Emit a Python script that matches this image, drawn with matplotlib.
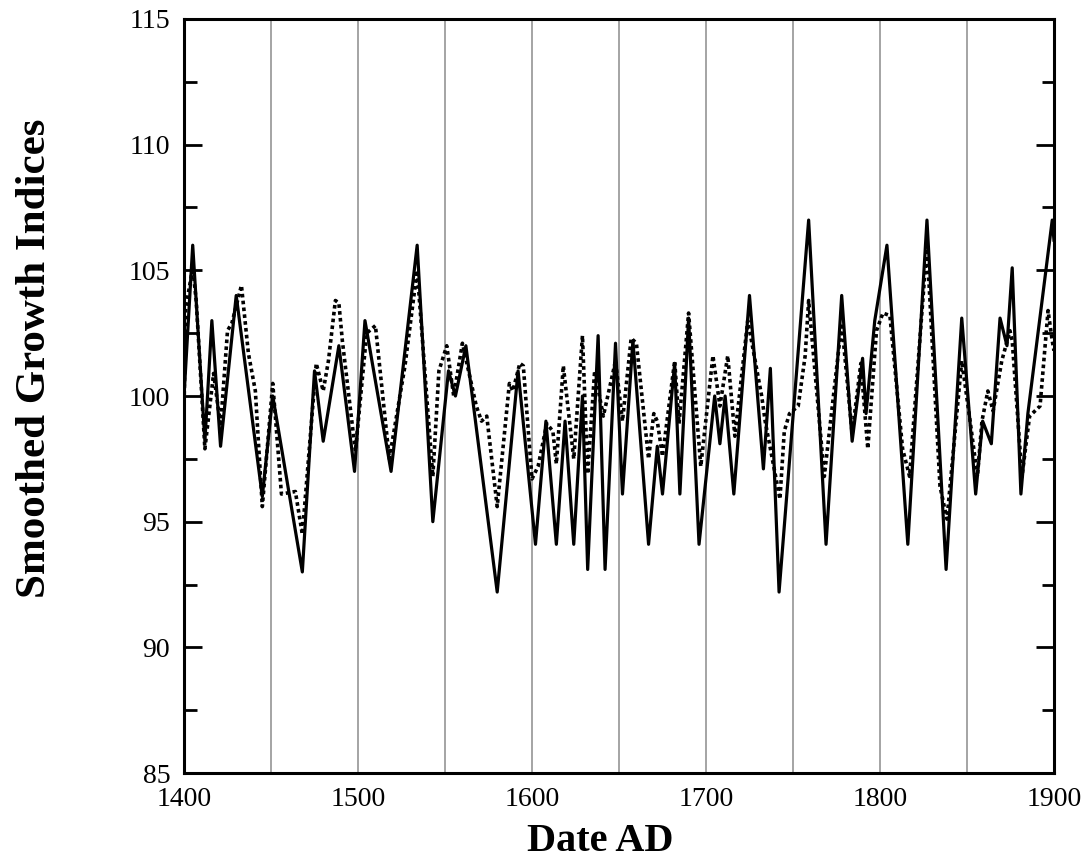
import matplotlib
matplotlib.use("Agg")
import matplotlib.pyplot as plt
from matplotlib.ticker import MultipleLocator

# === Data
solid_years = [1400, 1405, 1412, 1416, 1421, 1430, 1445, 1451, 1468, 1475,
               1480, 1489, 1498, 1504, 1519, 1534, 1543, 1552, 1556, 1562,
               1580, 1592, 1602, 1608, 1614, 1619, 1624, 1629, 1632, 1638,
               1642, 1648, 1652, 1658, 1667, 1672, 1675, 1682, 1685, 1690,
               1696, 1705, 1708, 1711, 1716, 1725, 1733, 1737, 1742, 1759,
               1769, 1778, 1784, 1790, 1792, 1797, 1804, 1816, 1827, 1838,
               1847, 1855, 1859, 1864, 1869, 1873, 1876, 1881, 1885, 1899,
               1900]
solid_vals = [100.0, 106.0, 98.2, 103.0, 98.0, 104.0, 96.0, 100.0, 93.0, 101.0,
              98.2, 102.0, 97.0, 103.0, 97.0, 106.0, 95.0, 101.0, 100.0, 102.0,
              92.2, 101.0, 94.1, 99.0, 94.1, 99.0, 94.1, 100.0, 93.1, 102.4,
              93.1, 102.1, 96.1, 102.2, 94.1, 98.0, 96.1, 101.3, 96.1, 103.1,
              94.1, 100.0, 98.1, 100.0, 96.1, 104.0, 97.1, 101.1, 92.2, 107.0,
              94.1, 104.0, 98.2, 101.5, 99.3, 103.0, 106.0, 94.1, 107.0, 93.1,
              103.1, 96.1, 99.0, 98.1, 103.1, 102.0, 105.1, 96.1, 99.3, 107.0,
              106.2]

dot_years = [1400, 1401, 1405, 1407, 1412, 1417, 1421, 1425, 1427.5, 1433,
             1437, 1441, 1445, 1451, 1456, 1464, 1468, 1476, 1480, 1483,
             1487, 1489, 1491, 1498.5, 1505, 1510, 1518, 1527, 1534, 1543,
             1546.5, 1551, 1555, 1560, 1568, 1571, 1574, 1580, 1587, 1589,
             1593, 1595, 1600, 1603.5, 1608.5, 1612, 1614, 1618, 1624, 1629,
             1632, 1636, 1641, 1648, 1652, 1657, 1660, 1667, 1670, 1672,
             1675, 1682, 1684.5, 1690, 1697, 1704, 1708, 1712.5, 1716.6, 1724,
             1732, 1734, 1742.5, 1745, 1748, 1753, 1757, 1759, 1768, 1778,
             1784, 1789, 1793, 1798, 1801.7, 1805.7, 1813, 1817, 1827, 1834.5,
             1838.5, 1847, 1852, 1856, 1858.6, 1862, 1865, 1870, 1874.7, 1876,
             1881.6, 1886, 1892, 1896.6, 1899, 1900]
dot_vals = [99.5, 103.5, 105.1, 103.8, 97.9, 100.9, 98.8, 102.6, 102.9, 104.4,
            101.7, 100.2, 95.6, 100.5, 96.1, 96.2, 94.5, 101.3, 100.2, 101.4,
            103.8, 103.7, 102.2, 97.8, 102.5, 102.8, 97.5, 101.2, 105.0, 96.8,
            101.0, 102.0, 100.0, 102.1, 99.6, 99.0, 99.2, 95.6, 100.5, 100.2,
            101.3, 101.2, 96.7, 97.2, 98.9, 98.6, 97.3, 101.2, 97.5, 102.4,
            96.9, 101.0, 99.2, 101.4, 99.0, 102.3, 102.1, 97.5, 99.3, 99.0,
            97.6, 101.4, 98.9, 103.3, 97.2, 101.6, 99.6, 101.6, 98.4, 103.0,
            100.0, 99.0, 95.9, 98.6, 99.3, 99.6, 101.6, 103.8, 96.8, 102.9,
            98.5, 101.3, 97.9, 102.6, 103.3, 103.2, 97.9, 96.8, 106.0, 96.4,
            95.1, 101.4, 98.9, 96.8, 99.0, 100.2, 99.4, 101.4, 102.6, 102.2,
            96.8, 99.2, 99.6, 103.4, 102.2, 101.8]

grid_years = [1450, 1500, 1550, 1600, 1650, 1700, 1750, 1800, 1850]

# === Plot
plt.rcParams["font.family"] = ["Liberation Serif", "DejaVu Serif"]

fig = plt.figure(figsize=(10.85, 8.67), dpi=100)
ax = fig.add_axes([0.1696, 0.1084, 0.8018, 0.8697])

for gx in grid_years:
    ax.axvline(gx, color="0.55", lw=1.1, zorder=1)

ax.plot(dot_years, dot_vals, color="black", lw=2.6, linestyle=(0, (1, 0.9)), zorder=2)
ax.plot(solid_years, solid_vals, color="black", lw=2.3, zorder=3)

ax.set_xlim(1400, 1900)
ax.set_ylim(85, 115)
ax.xaxis.set_major_locator(MultipleLocator(100))
ax.yaxis.set_major_locator(MultipleLocator(5))
ax.yaxis.set_minor_locator(MultipleLocator(2.5))

ax.tick_params(axis="both", which="both", direction="in", labelsize=20, width=2)
ax.tick_params(axis="y", which="major", length=13, right=True, pad=10)
ax.tick_params(axis="y", which="minor", length=9, right=True)
ax.tick_params(axis="x", which="major", length=0, pad=10)

for sp in ax.spines.values():
    sp.set_linewidth(2.2)

ax.set_xlabel("Date AD", fontsize=29, fontweight="bold")
ax.xaxis.set_label_coords(0.478, -0.066)
ax.set_ylabel("Smoothed Growth Indices", fontsize=31, fontweight="bold")
ax.yaxis.set_label_coords(-0.150, 0.55)

fig.savefig("out.png", dpi=100)
